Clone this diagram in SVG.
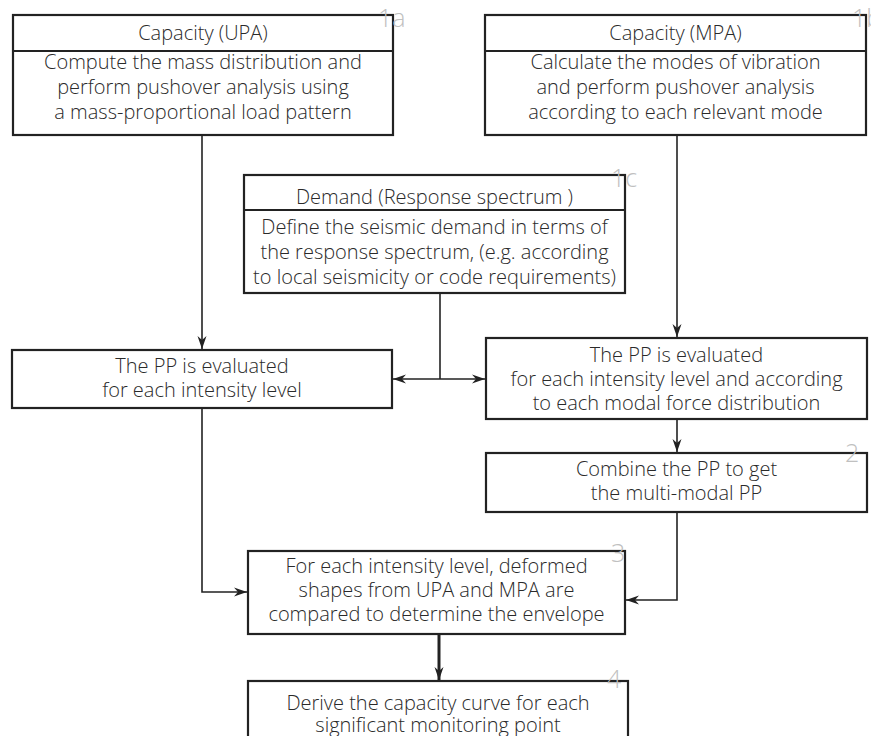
<svg xmlns="http://www.w3.org/2000/svg" width="871" height="736" viewBox="0 0 871 736">
<style>
.box{fill:#fff;stroke:#222;stroke-width:2.2}
.div{stroke:#222;stroke-width:2.2}
.t{font-family:"Open Sans","Liberation Sans",sans-serif;font-size:20px;font-weight:350;fill:#2a2a2a;text-anchor:middle}
.lbl{font-family:"Open Sans","Liberation Sans",sans-serif;font-size:25px;font-weight:300;fill:#c0c0c0}
.c{fill:none;stroke:#222;stroke-width:1.6}
.ct{fill:none;stroke:#222;stroke-width:3}
</style>
<defs>
<marker id="ah" markerUnits="userSpaceOnUse" markerWidth="14" markerHeight="10" refX="13" refY="5" orient="auto">
<path d="M0,0.5 L13,5 L0,9.5 L4,5 Z" fill="#222"/>
</marker>
</defs>
<rect width="871" height="736" fill="#fff"/>

<g id="connectors">
<path class="c" d="M202,135 V349" marker-end="url(#ah)"/>
<path class="c" d="M677,135 V337" marker-end="url(#ah)"/>
<path class="c" d="M440,293 V379"/>
<path class="c" d="M440,379 H393" marker-end="url(#ah)"/>
<path class="c" d="M440,379 H485" marker-end="url(#ah)"/>
<path class="c" d="M677,419 V452" marker-end="url(#ah)"/>
<path class="c" d="M202,408 V592 H247" marker-end="url(#ah)"/>
<path class="c" d="M677,512 V600 H626" marker-end="url(#ah)"/>
<path class="ct" d="M439,634 V680" marker-end="url(#ah)"/>
</g>

<g id="node-1a">
<rect class="box" x="13" y="15" width="380" height="120"/>
<line class="div" x1="13" y1="51" x2="393" y2="51"/>
<text class="t" x="203" y="40">Capacity (UPA)</text>
<text class="t" x="203" y="69">Compute the mass distribution and</text>
<text class="t" x="203" y="94">perform pushover analysis using</text>
<text class="t" x="203" y="119">a mass-proportional load pattern</text>
<text class="lbl" x="378" y="27">1a</text>
</g>

<g id="node-1b">
<rect class="box" x="485" y="15" width="381" height="120"/>
<line class="div" x1="485" y1="51" x2="866" y2="51"/>
<text class="t" x="675.5" y="40">Capacity (MPA)</text>
<text class="t" x="675.5" y="69">Calculate the modes of vibration</text>
<text class="t" x="675.5" y="94">and perform pushover analysis</text>
<text class="t" x="675.5" y="119">according to each relevant mode</text>
<text class="lbl" x="852" y="27">1b</text>
</g>

<g id="node-1c">
<rect class="box" x="244" y="175" width="381" height="118"/>
<line class="div" x1="244" y1="210" x2="625" y2="210"/>
<text class="t" x="434.5" y="204">Demand (Response spectrum )</text>
<text class="t" x="434.5" y="234">Define the seismic demand in terms of</text>
<text class="t" x="434.5" y="259">the response spectrum, (e.g. according</text>
<text class="t" x="434.5" y="284">to local seismicity or code requirements)</text>
<text class="lbl" x="611" y="187">1c</text>
</g>

<g id="node-pp-upa">
<rect class="box" x="12" y="350" width="380" height="58"/>
<text class="t" x="202" y="373">The PP is evaluated</text>
<text class="t" x="202" y="397">for each intensity level</text>
</g>

<g id="node-pp-mpa">
<rect class="box" x="486" y="338" width="381" height="81"/>
<text class="t" x="676.5" y="362">The PP is evaluated</text>
<text class="t" x="676.5" y="386">for each intensity level and according</text>
<text class="t" x="676.5" y="410">to each modal force distribution</text>
</g>

<g id="node-2">
<rect class="box" x="486" y="453" width="381" height="59"/>
<text class="t" x="676.5" y="476">Combine the PP to get</text>
<text class="t" x="676.5" y="500">the multi-modal PP</text>
<text class="lbl" x="845" y="462">2</text>
</g>

<g id="node-3">
<rect class="box" x="248" y="551" width="377" height="83"/>
<text class="t" x="436.5" y="573">For each intensity level, deformed</text>
<text class="t" x="436.5" y="597">shapes from UPA and MPA are</text>
<text class="t" x="436.5" y="621">compared to determine the envelope</text>
<text class="lbl" x="611" y="562">3</text>
</g>

<g id="node-4">
<rect class="box" x="248" y="681" width="380" height="70"/>
<text class="t" x="438" y="710">Derive the capacity curve for each</text>
<text class="t" x="438" y="732">significant monitoring point</text>
<text class="lbl" x="607" y="688">4</text>
</g>
</svg>
